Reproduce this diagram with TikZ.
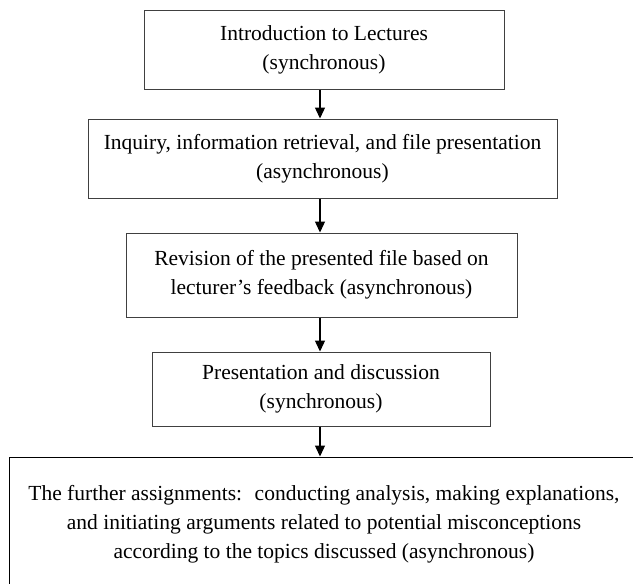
\documentclass[tikz,border=0pt]{standalone}
\usepackage{fontspec}
\setmainfont{Liberation Serif}
\usetikzlibrary{arrows.meta}

\tikzset{
  stagebox/.style={draw=black!75, line width=1pt, align=center, inner sep=0pt,
    font=\fontsize{21.5}{29}\selectfont},
  flowarrow/.style={-{Triangle[length=11pt,width=10pt]}, line width=1.4pt}
}

\begin{document}
\begin{tikzpicture}[x=1pt,y=-1pt]
  \useasboundingbox (0,0) rectangle (633,584);

  % stages, top to bottom
  \node[stagebox, minimum width=360, minimum height=79] (intro) at (324,49.5)
    {Introduction to Lectures\\(synchronous)};
  \node[stagebox, minimum width=469, minimum height=79] (inquiry) at (322.5,158.5)
    {Inquiry, information retrieval, and file presentation\\(asynchronous)};
  \node[stagebox, minimum width=391, minimum height=84] (revision) at (321.5,275)
    {Revision of the presented file based on\\lecturer's feedback (asynchronous)};
  \node[stagebox, minimum width=338, minimum height=74] (present) at (321,389)
    {Presentation and discussion\\(synchronous)};
  \node[stagebox, draw=black, minimum width=630, minimum height=134] (further) at (324,524)
    {The further assignments:~ conducting analysis, making explanations,\\
     and initiating arguments related to potential misconceptions\\
     according to the topics discussed (asynchronous)};

  % arrows
  \coordinate (axis) at (320,0);
  \draw[flowarrow] (intro.south -| axis) -- (inquiry.north -| axis);
  \draw[flowarrow] (inquiry.south -| axis) -- (revision.north -| axis);
  \draw[flowarrow] (revision.south -| axis) -- (present.north -| axis);
  \draw[flowarrow] (present.south -| axis) -- (further.north -| axis);
\end{tikzpicture}
\end{document}
